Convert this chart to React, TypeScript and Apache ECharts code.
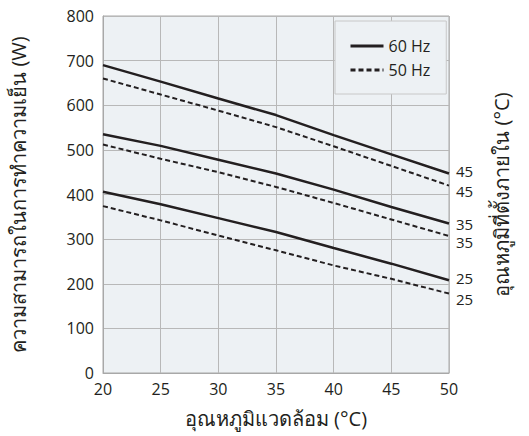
import React, { useEffect, useRef } from "react";
import * as echarts from "echarts";

const ambientTemps = [20, 25, 30, 35, 40, 45, 50];
const hz60_45 = [690, 653, 615, 578, 533, 490, 447];
const hz50_45 = [660, 624, 588, 551, 508, 464, 420];
const hz60_35 = [535, 509, 478, 447, 411, 372, 335];
const hz50_35 = [512, 480, 450, 417, 381, 344, 307];
const hz60_25 = [406, 378, 347, 316, 280, 245, 208];
const hz50_25 = [374, 342, 308, 275, 241, 211, 178];
const yTicks = { min: 0, max: 800, interval: 100 };
const xTicks = { min: 20, max: 50, interval: 5 };

const FONT = "'Open Sans', 'Noto Sans', sans-serif";

export default function App() {
  const ref = useRef<HTMLDivElement>(null);
  useEffect(() => {
    if (!ref.current) return;
    const chart = echarts.init(ref.current, null, { renderer: "svg" });
    const mk = (
      name: string,
      vals: number[],
      dashed: boolean,
      label: string,
      dy: number
    ) => ({
      type: "line",
      name,
      data: ambientTemps.map((t, i) => [t, vals[i]]),
      symbol: "none",
      lineStyle: {
        color: "#231f20",
        width: dashed ? 2 : 2.5,
        type: dashed ? [5, 3] : "solid",
      },
      itemStyle: { color: "#231f20" },
      endLabel: {
        show: true,
        formatter: label,
        color: "#231f20",
        fontSize: 15,
        lineHeight: 16,
        fontFamily: FONT,
        distance: 7,
        offset: [0, dy],
      },
    });
    chart.setOption({
      animation: false,
      textStyle: { fontFamily: FONT },
      grid: {
        left: 95,
        right: 80,
        top: 16,
        bottom: 63,
        show: true,
        backgroundColor: "#edf1f4",
        borderColor: "#a8a8a8",
        borderWidth: 1,
      },
      legend: {
        data: ["60 Hz", "50 Hz"],
        orient: "vertical",
        left: 335,
        top: 21,
        padding: [17, 16, 16, 14],
        itemGap: 8,
        itemWidth: 33,
        itemHeight: 14,
        backgroundColor: "#edf1f4",
        borderColor: "#c8c8c8",
        borderWidth: 1,
        itemStyle: { opacity: 0 },
        lineStyle: { width: 3 },
        textStyle: { fontSize: 16, color: "#231f20", fontFamily: FONT },
      },
      xAxis: {
        type: "value",
        min: xTicks.min,
        max: xTicks.max,
        interval: xTicks.interval,
        name: "อุณหภูมิแวดล้อม (°C)",
        nameLocation: "middle",
        nameGap: 35,
        nameTextStyle: { fontSize: 20, color: "#231f20", fontFamily: FONT },
        axisLine: { show: true, lineStyle: { color: "#a8a8a8" } },
        axisTick: { show: false },
        axisLabel: { fontSize: 16, color: "#231f20", margin: 8 },
        splitLine: { show: true, lineStyle: { color: "#b8b8b8", width: 1 } },
      },
      yAxis: [
        {
          type: "value",
          min: yTicks.min,
          max: yTicks.max,
          interval: yTicks.interval,
          name: "ความสามารถในการทำความเย็น (W)",
          nameLocation: "middle",
          nameRotate: 90,
          nameGap: 75,
          nameTextStyle: { fontSize: 20, color: "#231f20", fontFamily: FONT },
          axisLine: { show: true, lineStyle: { color: "#a8a8a8" } },
          axisTick: { show: false },
          axisLabel: { fontSize: 16, color: "#231f20", margin: 9 },
          splitLine: { show: true, lineStyle: { color: "#b8b8b8", width: 1 } },
        },
        {
          type: "value",
          position: "right",
          min: yTicks.min,
          max: yTicks.max,
          interval: yTicks.interval,
          name: "อุณหภูมิที่ตั้งภายใน (°C)",
          nameLocation: "middle",
          nameRotate: 90,
          nameGap: 42,
          nameTextStyle: { fontSize: 20, color: "#231f20", fontFamily: FONT },
          axisLine: { show: false },
          axisTick: { show: false },
          axisLabel: { show: false },
          splitLine: { show: false },
        },
      ],
      series: [
        mk("60 Hz", hz60_45, false, "45", -3),
        mk("50 Hz", hz50_45, true, "45", 5),
        mk("60 Hz", hz60_35, false, "35", 0),
        mk("50 Hz", hz50_35, true, "35", 6),
        mk("60 Hz", hz60_25, false, "25", -2),
        mk("50 Hz", hz50_25, true, "25", 5),
      ],
    });
    return () => chart.dispose();
  }, []);
  return (
    <div
      ref={ref}
      style={{ position: "fixed", left: 0, top: 0, width: 529, height: 436, background: "#fff" }}
    />
  );
}
